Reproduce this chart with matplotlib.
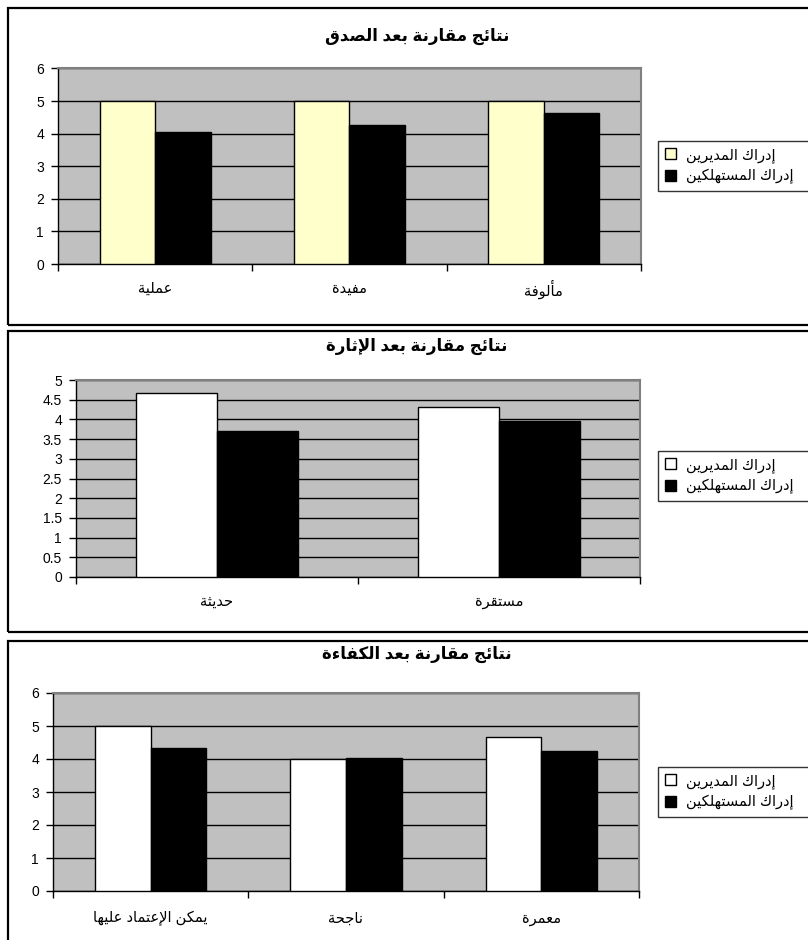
import numpy as np
import matplotlib
matplotlib.use("Agg")
from matplotlib import pyplot as plt
from matplotlib.patches import Patch, Rectangle

plt.rcParams['font.family'] = ['Liberation Sans', 'DejaVu Sans']

# data
series_names = ['إدراك المديرين', 'إدراك المستهلكين']

titles = ['نتائج مقارنة بعد الصدق', 'نتائج مقارنة بعد الإثارة', 'نتائج مقارنة بعد الكفاءة']

cats_1 = ['عملية', 'مفيدة', 'مألوفة']
managers_1 = [5.0, 5.0, 5.0]
consumers_1 = [4.05, 4.27, 4.63]

cats_2 = ['حديثة', 'مستقرة']
managers_2 = [4.67, 4.32]
consumers_2 = [3.71, 3.96]

cats_3 = ['يمكن الإعتماد عليها', 'ناجحة', 'معمرة']
managers_3 = [5.0, 4.0, 4.67]
consumers_3 = [4.33, 4.02, 4.24]

# arabic shaping (no bidi lib available): presentation forms + reverse
FORMS = {
    'ء': ('\uFE80',), 'أ': ('\uFE83', '\uFE84'), 'إ': ('\uFE87', '\uFE88'),
    'ئ': ('\uFE89', '\uFE8A', '\uFE8B', '\uFE8C'), 'ا': ('\uFE8D', '\uFE8E'),
    'ب': ('\uFE8F', '\uFE90', '\uFE91', '\uFE92'), 'ة': ('\uFE93', '\uFE94'),
    'ت': ('\uFE95', '\uFE96', '\uFE97', '\uFE98'), 'ث': ('\uFE99', '\uFE9A', '\uFE9B', '\uFE9C'),
    'ج': ('\uFE9D', '\uFE9E', '\uFE9F', '\uFEA0'), 'ح': ('\uFEA1', '\uFEA2', '\uFEA3', '\uFEA4'),
    'د': ('\uFEA9', '\uFEAA'), 'ر': ('\uFEAD', '\uFEAE'),
    'س': ('\uFEB1', '\uFEB2', '\uFEB3', '\uFEB4'), 'ص': ('\uFEB9', '\uFEBA', '\uFEBB', '\uFEBC'),
    'ع': ('\uFEC9', '\uFECA', '\uFECB', '\uFECC'), 'ف': ('\uFED1', '\uFED2', '\uFED3', '\uFED4'),
    'ق': ('\uFED5', '\uFED6', '\uFED7', '\uFED8'), 'ك': ('\uFED9', '\uFEDA', '\uFEDB', '\uFEDC'),
    'ل': ('\uFEDD', '\uFEDE', '\uFEDF', '\uFEE0'), 'م': ('\uFEE1', '\uFEE2', '\uFEE3', '\uFEE4'),
    'ن': ('\uFEE5', '\uFEE6', '\uFEE7', '\uFEE8'), 'ه': ('\uFEE9', '\uFEEA', '\uFEEB', '\uFEEC'),
    'و': ('\uFEED', '\uFEEE'), 'ي': ('\uFEF1', '\uFEF2', '\uFEF3', '\uFEF4'),
}
LAM_ALEF = {'ا': ('\uFEFB', '\uFEFC'), 'أ': ('\uFEF7', '\uFEF8'), 'إ': ('\uFEF9', '\uFEFA')}


def shape(text):
    toks = []
    i = 0
    while i < len(text):
        c = text[i]
        if c == 'ل' and i + 1 < len(text) and text[i + 1] in LAM_ALEF:
            toks.append(LAM_ALEF[text[i + 1]])
            i += 2
        else:
            toks.append(FORMS.get(c, c))
            i += 1
    out = []
    for k, t in enumerate(toks):
        if isinstance(t, str):
            out.append(t)
            continue
        prev = toks[k - 1] if k > 0 else None
        nxt = toks[k + 1] if k + 1 < len(toks) else None
        joinable = len(t) > 1
        p = joinable and isinstance(prev, tuple) and len(prev) == 4
        n = len(t) == 4 and isinstance(nxt, tuple) and len(nxt) > 1
        if p and n:
            out.append(t[3])
        elif p:
            out.append(t[1])
        elif n:
            out.append(t[2])
        else:
            out.append(t[0])
    return ''.join(out)[::-1]


W, H = 808, 940
fig = plt.figure(figsize=(W / 100, H / 100), dpi=100)
fig.patch.set_facecolor('white')


def rect(x0, y0, x1, y1):
    return [x0 / W, 1 - y1 / H, (x1 - x0) / W, (y1 - y0) / H]


def panel(y0, y1):
    fig.patches.append(Rectangle((8 / W, 1 - y1 / H), 1.1, (y1 - y0) / H, fill=False,
                                 edgecolor='black', lw=1.6, transform=fig.transFigure))


def chart(box, cats, man, con, man_color, ymax, ystep, title, ty, leg_y, lab_pad):
    ax = fig.add_axes(rect(*box))
    x = np.arange(len(cats))
    w = 1 / 3.5
    ax.bar(x - w / 2, man, w, color=man_color, edgecolor='black', lw=1, zorder=3)
    ax.bar(x + w / 2, con, w, color='black', edgecolor='black', lw=1, zorder=3)
    ax.set_facecolor('#C0C0C0')
    ax.set_xlim(-0.5, len(cats) - 0.5)
    ax.set_ylim(0, ymax)
    ticks = np.arange(0, ymax + ystep / 2, ystep)
    ax.set_yticks(ticks)
    ax.set_yticklabels(['%g' % t for t in ticks], fontsize=10)
    ax.yaxis.grid(True, color='black', lw=1, zorder=1)
    ax.set_axisbelow(True)
    ax.set_xticks(np.arange(len(cats) + 1) - 0.5)
    ax.set_xticklabels([])
    ax.set_xticks(x, minor=True)
    ax.set_xticklabels([shape(c) for c in cats], minor=True, fontsize=10.5)
    for lbl in ax.get_xticklabels(minor=True):
        lbl.set_verticalalignment('center')
    ax.tick_params(axis='x', which='minor', length=0, pad=lab_pad)
    ax.tick_params(axis='x', which='major', length=5, width=1, direction='out')
    ax.tick_params(axis='y', length=5, width=1, direction='out', pad=5)
    for s in ['top', 'right']:
        ax.spines[s].set_color('#808080')
        ax.spines[s].set_linewidth(1.5)
    ax.spines['left'].set_linewidth(1)
    ax.spines['bottom'].set_linewidth(1)
    fig.text(417 / W, 1 - ty / H, shape(title), ha='center', va='center',
             fontsize=12, fontweight='bold')
    handles = [Patch(facecolor=man_color, edgecolor='black', lw=1),
               Patch(facecolor='black', edgecolor='black', lw=1)]
    labels = [shape(s) + '  ' for s in series_names]
    leg = fig.legend(handles, labels, loc='center left',
                     bbox_to_anchor=(658 / W, 1 - leg_y / H), fontsize=10.5,
                     frameon=True, fancybox=False, edgecolor='black',
                     handlelength=0.8, handleheight=0.8, handletextpad=0.7,
                     borderpad=0.45, labelspacing=0.45, borderaxespad=0)
    leg.get_frame().set_linewidth(1)
    return ax


panel(8, 325)
panel(331, 632)
panel(641, 960)

chart((58, 68.5, 641, 264), cats_1, managers_1, consumers_1, '#FFFFCC', 6, 1,
      titles[0], 36, 166, 18)
chart((76, 380, 640, 577), cats_2, managers_2, consumers_2, 'white', 5, 0.5,
      titles[1], 346, 476, 18)
chart((53, 693, 639, 891), cats_3, managers_3, consumers_3, 'white', 6, 1,
      titles[2], 654, 792, 20)

fig.savefig('out.png', dpi=100)
